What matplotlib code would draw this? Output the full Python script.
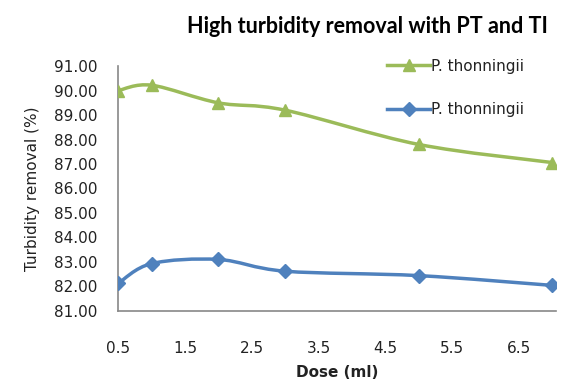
import numpy as np
import matplotlib
matplotlib.use("Agg")
from matplotlib import pyplot as plt
from matplotlib.path import Path
from matplotlib.patches import PathPatch

dose = [0.5, 1, 2, 3, 5, 7]
pt_removal = [90.00, 90.22, 89.50, 89.20, 87.80, 87.06]
ti_removal = [82.12, 82.93, 83.10, 82.62, 82.44, 82.04]
series_labels = ["P. thonningii", "P. thonningii"]
yticks = np.arange(81, 92, 1)
xticks = [0.5, 1.5, 2.5, 3.5, 4.5, 5.5, 6.5]

verde = "#9BBB59"
azul = "#4F81BD"


def curva_suave(ax, x, y, color):
    # Excel style smoothed line: cubic bezier through the points
    x = np.asarray(x, float)
    y = np.asarray(y, float)
    verts = [(x[0], y[0])]
    codes = [Path.MOVETO]
    n = len(x)
    for i in range(n - 1):
        x0, y0 = (x[i - 1], y[i - 1]) if i > 0 else (x[i], y[i])
        x3, y3 = (x[i + 2], y[i + 2]) if i + 2 < n else (x[i + 1], y[i + 1])
        c1 = (x[i] + (x[i + 1] - x0) / 6, y[i] + (y[i + 1] - y0) / 6)
        c2 = (x[i + 1] - (x3 - x[i]) / 6, y[i + 1] - (y3 - y[i]) / 6)
        verts += [c1, c2, (x[i + 1], y[i + 1])]
        codes += [Path.CURVE4] * 3
    ax.add_patch(PathPatch(Path(verts, codes), facecolor="none",
                           edgecolor=color, lw=2.5, capstyle="round", zorder=2))


fig = plt.figure(figsize=(5.68, 3.8), dpi=100)
ax = fig.add_axes([0.208, 0.182, 0.77, 0.644])

curva_suave(ax, dose, pt_removal, verde)
curva_suave(ax, dose, ti_removal, azul)
ax.plot(dose, pt_removal, ls="none", marker="^", ms=9, color=verde, zorder=3)
ax.plot(dose, ti_removal, ls="none", marker="D", ms=7, color=azul, zorder=3)

# legend handles
h1, = ax.plot([], [], color=verde, lw=2.5, marker="^", ms=9)
h2, = ax.plot([], [], color=azul, lw=2.5, marker="D", ms=7)
leg = ax.legend([h1, h2], series_labels, loc="upper left",
                bbox_to_anchor=(0.615, 1.03), frameon=False, fontsize=11,
                labelspacing=1.85, handlelength=2.8, handletextpad=0.1,
                borderaxespad=0, borderpad=0)
for t in leg.get_texts():
    t.set_color("#222222")

ax.set_xlim(0.5, 7.05)
ax.set_ylim(81, 91)
ax.set_xticks(xticks)
ax.set_xticklabels([str(v) for v in xticks])
ax.set_yticks(yticks)
ax.set_yticklabels(["%.2f" % v for v in yticks])
ax.tick_params(axis="both", length=0, labelsize=11, colors="#222222")
ax.tick_params(axis="x", pad=22)
ax.tick_params(axis="y", pad=15)

for s in ["top", "right"]:
    ax.spines[s].set_visible(False)
for s in ["left", "bottom"]:
    ax.spines[s].set_color("#888888")
    ax.spines[s].set_linewidth(1.2)

ax.set_ylabel("Turbidity removal (%)", fontsize=11, color="#222222", labelpad=10)
ax.set_xlabel("Dose (ml)", fontsize=11, fontweight="bold", color="#222222",
              labelpad=6)
fig.text(0.647, 0.93, "High turbidity removal with PT and TI", ha="center",
         va="center", fontsize=15.5, fontweight="bold", family="Lato")

fig.savefig("out.png", dpi=100)
